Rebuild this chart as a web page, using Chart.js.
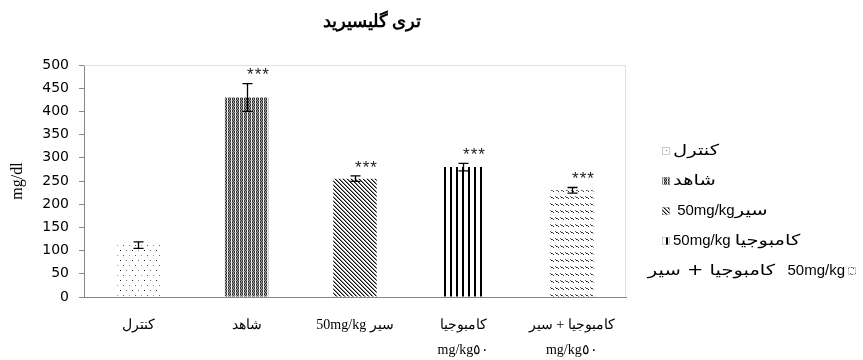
<!DOCTYPE html>
<html><head><meta charset="utf-8">
<script src="https://cdn.jsdelivr.net/npm/chart.js@4/dist/chart.umd.min.js"></script>
<style>html,body{margin:0;padding:0;background:#fff}canvas{display:block}</style>
</head><body>
<canvas id="c" width="863" height="360"></canvas>
<script>
const chartTitle = 'تری گلیسیرید';
const yAxisTitle = 'mg/dl';
const categories = ['کنترل', 'شاهد', '50mg/kg سیر', ['کامبوجیا', 'mg/kg٥٠'], ['کامبوجیا + سیر', 'mg/kg٥٠']];
const values = [112, 430, 255, 280, 230];
const errors = [7, 30, 6, 8, 6];
const stars = ['', '***', '***', '***', '***'];
const legendLabels = ['کنترل', 'شاهد', ' 50mg/kgسیر', '50mg/kg کامبوجیا', 'کامبوجیا + سیر  \u200E50mg/kg'];
const yMin = 0, yMax = 500, yStep = 50;

const canvas = document.getElementById('c');
const ctx = canvas.getContext('2d');

function makePattern(w, h, cells) {
  const c = document.createElement('canvas');
  c.width = w; c.height = h;
  const x = c.getContext('2d');
  x.fillStyle = '#fff'; x.fillRect(0, 0, w, h);
  cells(x);
  return ctx.createPattern(c, 'repeat');
}
function px(x, a, b, col) { x.fillStyle = col; x.fillRect(a, b, 1, 1); }

const patterns = [
  makePattern(12, 10, x => { px(x,0,0,'#222'); px(x,6,0,'#777'); px(x,3,5,'#555'); px(x,9,5,'#999'); }),
  makePattern(4, 3, x => {
    for (let r = 0; r < 3; r++) for (let c = 0; c < 3; c++) px(x, c, r, ((r + c) % 2 === 0) ? '#333' : '#999');
    px(x, 3, 1, '#ccc');
  }),
  makePattern(4, 4, x => { for (let i = 0; i < 4; i++) { px(x, i, i, '#111'); px(x, (i + 1) % 4, i, '#888'); } }),
  makePattern(6, 1, x => { px(x,0,0,'#000'); px(x,1,0,'#000'); }),
  makePattern(5, 7, x => { px(x,0,0,'#666'); px(x,1,1,'#222'); px(x,2,1,'#555'); px(x,3,2,'#333'); })
];

const framePlugin = {
  id: 'frame',
  beforeDatasetsDraw(chart) {
    const a = chart.chartArea, c = chart.ctx;
    c.save();
    c.strokeStyle = '#dedede'; c.lineWidth = 1;
    c.beginPath();
    c.moveTo(a.left, a.top + 0.5); c.lineTo(a.right - 0.5, a.top + 0.5); c.lineTo(a.right - 0.5, a.bottom);
    c.stroke();
    c.restore();
  },
  afterDraw(chart) {
    const c = chart.ctx;
    c.save();
    c.font = 'bold 18px "Liberation Serif", "Times New Roman", serif';
    c.fillStyle = '#000'; c.textAlign = 'center'; c.textBaseline = 'middle';
    c.fillText(chartTitle, 372, 22);
    c.restore();
  }
};

const errorPlugin = {
  id: 'errbars',
  afterDatasetsDraw(chart) {
    const c = chart.ctx, ys = chart.scales.y, meta = chart.getDatasetMeta(0);
    c.save();
    meta.data.forEach((el, i) => {
      const x = Math.round(el.x) + 0.5;
      const yt = ys.getPixelForValue(values[i] + errors[i]);
      const yb = ys.getPixelForValue(values[i] - errors[i]);
      c.strokeStyle = '#000'; c.lineWidth = 1.3;
      c.beginPath();
      c.moveTo(x, yt); c.lineTo(x, yb);
      c.moveTo(x - 5, yt); c.lineTo(x + 5, yt);
      c.moveTo(x - 5, yb); c.lineTo(x + 5, yb);
      c.stroke();
      if (stars[i]) {
        c.fillStyle = '#222';
        c.font = '17px "Liberation Sans", Arial, sans-serif';
        c.letterSpacing = '1px';
        c.textAlign = 'center'; c.textBaseline = 'middle';
        c.fillText(stars[i], x + 11, yt - 8);
        c.letterSpacing = '0px';
      }
    });
    c.restore();
  }
};

const isLatin = s => /[A-Za-z0-9]/.test(s);
function drawMixed(c, text, x, y, align) {
  const parts = text.split(/(\u200E?\s*50mg\/kg\s*)/).filter(p => p.length);
  const latinFont = '15px "Liberation Sans", Arial, sans-serif';
  const arFont = '15px "DejaVu Sans", sans-serif';
  const k = 1.3;
  const widths = parts.map(p => {
    c.font = isLatin(p) ? latinFont : arFont;
    return c.measureText(p).width * (isLatin(p) ? 1 : k);
  });
  const total = widths.reduce((a, b) => a + b, 0);
  let cx = align === 'right' ? x - total : x;
  c.textAlign = 'left';
  parts.forEach((p, i) => {
    c.save();
    if (isLatin(p)) { c.font = latinFont; c.fillText(p, cx, y); }
    else { c.font = arFont; c.translate(cx, y); c.scale(k, 1); c.fillText(p, 0, 0); }
    c.restore();
    cx += widths[i];
  });
}

const legendPlugin = {
  id: 'customLegend',
  afterDraw(chart) {
    const c = chart.ctx, a = chart.chartArea;
    c.save();
    c.textBaseline = 'middle';
    const x0 = a.right + 36, y0 = a.top + 86, dy = 30;
    legendLabels.forEach((t, i) => {
      const y = y0 + i * dy;
      let bx;
      c.fillStyle = patterns[i];
      if (i === legendLabels.length - 1) {
        bx = a.right + 222;
        c.fillRect(bx, y - 4, 8, 8);
        c.fillStyle = '#000';
        drawMixed(c, t, bx - 3, y, 'right');
      } else {
        bx = x0;
        c.fillRect(bx, y - 4, 8, 8);
        c.fillStyle = '#000';
        drawMixed(c, t, bx + 11, y, 'left');
      }
      c.strokeStyle = '#aaa'; c.lineWidth = 0.6;
      c.strokeRect(bx + 0.5, y - 3.5, 7, 7);
    });
    c.restore();
  }
};

new Chart(ctx, {
  type: 'bar',
  data: {
    labels: categories,
    datasets: [{
      data: values,
      backgroundColor: patterns,
      borderWidth: 0,
      categoryPercentage: 1,
      barPercentage: 0.4
    }]
  },
  options: {
    responsive: false,
    animation: false,
    devicePixelRatio: 1,
    layout: { padding: { left: 0, right: 237, top: 65, bottom: 0 } },
    plugins: {
      legend: { display: false },
      tooltip: { enabled: false },
      title: { display: false }
    },
    scales: {
      x: {
        grid: { display: false, drawTicks: false },
        border: { display: true, color: '#868686', width: 1 },
        ticks: {
          color: '#000', padding: 16, maxRotation: 0, autoSkip: false,
          font: { family: '"Liberation Serif", "Times New Roman", serif', size: 14, lineHeight: 1.8 }
        },
        afterFit(s) { s.height = 63; }
      },
      y: {
        min: yMin, max: yMax,
        grid: { display: true, drawOnChartArea: false, drawTicks: true, tickLength: 5, color: '#868686' },
        border: { display: true, color: '#868686', width: 1 },
        ticks: {
          stepSize: yStep, color: '#000', padding: 10,
          font: { family: '"DejaVu Sans", Verdana, sans-serif', size: 14 }
        },
        title: {
          display: true, text: yAxisTitle, color: '#000',
          font: { family: '"Liberation Serif", "Times New Roman", serif', size: 16 },
          padding: { top: 8, bottom: 0 }
        },
        afterFit(s) { s.width = 84; }
      }
    }
  },
  plugins: [framePlugin, errorPlugin, legendPlugin]
});
</script>
</body></html>
